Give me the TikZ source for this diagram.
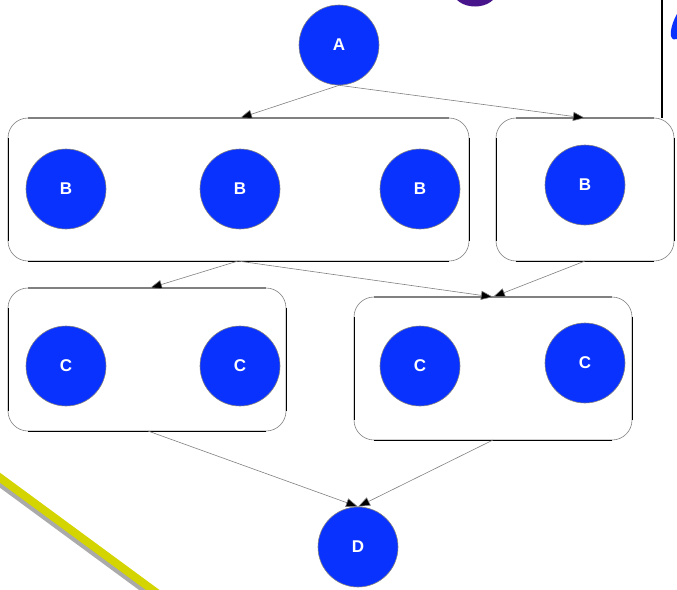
\documentclass[tikz,border=0pt]{standalone}
\usepackage{fontspec}
\setmainfont{Liberation Sans}
\usetikzlibrary{arrows.meta}
\definecolor{ballblue}{RGB}{10,50,255}
\definecolor{edgegray}{RGB}{128,128,128}
\definecolor{plum}{RGB}{72,20,140}
\definecolor{lemon}{RGB}{212,212,0}
\definecolor{shadowgray}{RGB}{170,170,170}
\tikzset{
  ball/.style={circle, minimum size=80pt, inner sep=0pt, fill=ballblue,
    draw=edgegray, line width=0.6pt, text=white,
    font=\fontsize{17}{17}\selectfont\bfseries},
  frame/.style={draw=edgegray, line width=0.6pt, rounded corners=20pt},
  framedark/.style={draw=black, line width=0.9pt},
  frametop/.style={draw=edgegray, line width=1.3pt},
  link/.style={draw=edgegray, line width=0.6pt,
    -{Triangle[length=12pt,width=9pt,fill=black]}},
}
% rounded group frame: #1 name, #2 left, #3 top, #4 right, #5 bottom
\newcommand{\groupframe}[5]{%
  \path[frame] (#2,#3) rectangle (#4,#5);
  \path[framedark] (#2,#3+20) -- (#2,#5-20);
  \path[framedark] (#4,#3+20) -- (#4,#5-20);
  \path[framedark] (#2+20,#5) -- (#4-20,#5);
  \path[frametop] (#2+20,#3) -- (#4-20,#3);
  \coordinate (#1-n) at ({(#2+#4)/2},#3);
  \coordinate (#1-s) at ({(#2+#4)/2},#5);
}
\begin{document}
\begin{tikzpicture}[x=1pt,y=-1pt]
\useasboundingbox (0,0) rectangle (677,589);

% stray shapes around the sheet
\fill[plum] (475,-9) ellipse [x radius=22, y radius=15.5];
\fill[ballblue] (677,14) .. controls (673,21) and (670,30) .. (671,36)
  .. controls (672,40) and (675,40) .. (677,39) -- cycle;
\draw[black, line width=1.4pt] (662,0) -- (662,118);
\draw[shadowgray, line width=9pt] (-5,478.5) -- (165,603.5);
\draw[lemon, line width=8pt] (-5,474) -- (165,599);

% group frames
\groupframe{g1}{8}{118}{469}{261}
\groupframe{g2}{496}{118}{674}{261}
\groupframe{g3}{8}{288}{286}{431}
\groupframe{g4}{354}{297}{632}{440}
\coordinate (g1-out) at (238,261);
\coordinate (g1-in) at (240,118);
\coordinate (g2-in) at (585,118);
\coordinate (g3-in) at (150,288);
\coordinate (g3-out) at (148,431);
\coordinate (g4-in) at (493,297);
\coordinate (g4-out) at (493,440);

% nodes
\node[ball] (a)  at (339,45)  {A};
\node[ball] (b1) at (66,189)  {B};
\node[ball] (b2) at (240,189) {B};
\node[ball] (b3) at (420,189) {B};
\node[ball] (b4) at (585,185) {B};
\node[ball] (c1) at (66,366)  {C};
\node[ball] (c2) at (240,366) {C};
\node[ball] (c3) at (420,366) {C};
\node[ball] (c4) at (585,363) {C};
\node[ball] (d)  at (358,547) {D};

% connectors
\draw[link] (a.south) -- (g1-in);
\draw[link] (a.south) -- (g2-in);
\draw[link] (g1-out) -- (g3-in);
\draw[link] (g1-out) -- (g4-in);
\draw[link] (g2-s) -- (g4-in);
\draw[link] (g3-out) -- (d.north);
\draw[link] (g4-out) -- (d.north);
\end{tikzpicture}
\end{document}
